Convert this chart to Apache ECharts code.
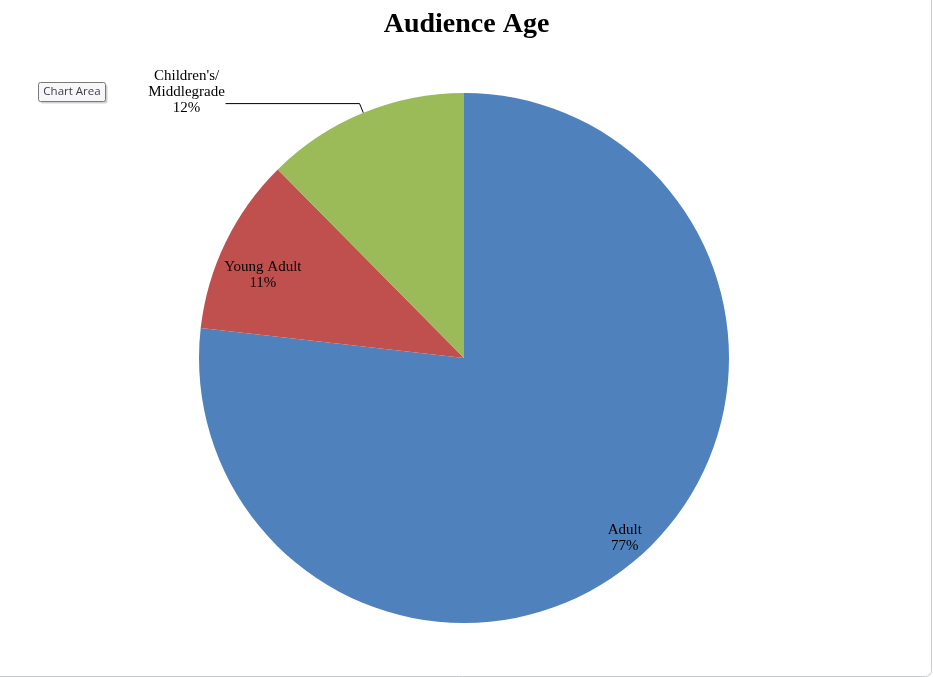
<!DOCTYPE html>
<html>
<head>
<meta charset="utf-8">
<script src="https://cdn.jsdelivr.net/npm/echarts@6/dist/echarts.min.js"></script>
<style>
html,body{margin:0;padding:0;background:#fff;}
#chart{width:933px;height:677px;}
</style>
</head>
<body>
<div id="chart"></div>
<script>
const titleText = 'Audience Age';
const categories = ['Adult', 'Young Adult', "Children's/\nMiddlegrade"];
const values = [76.8, 10.8, 12.4];
const colors = ['#4F81BD', '#C0504D', '#9BBB59'];

const total = values.reduce((a, b) => a + b, 0);
const pct = v => Math.round(v / total * 100) + '%';
const serif = '"Liberation Serif", "DejaVu Serif", serif';

const chart = echarts.init(document.getElementById('chart'));
const center = [464, 358];
const R = 265;

function overlay(idx, inner, shift) {
  return {
    type: 'pie', center: center, radius: [R * inner, R], startAngle: 90, clockwise: true,
    silent: true,
    data: categories.map((c, i) => ({
      name: c, value: values[i], itemStyle: { color: 'rgba(0,0,0,0)' },
      label: { show: i === idx }
    })),
    label: {
      position: 'inside', fontFamily: serif, fontSize: 15, color: '#000', lineHeight: 16,
      formatter: p => p.name + '\n' + pct(p.value)
    },
    labelLine: { show: false },
    labelLayout: () => shift
  };
}

chart.setOption({
  animation: false,
  backgroundColor: '#fff',
  title: {
    text: titleText, left: 'center', top: 6,
    textStyle: { fontFamily: serif, fontWeight: 'bold', fontSize: 28, color: '#000' }
  },
  graphic: [
    { type: 'rect', shape: { x: -10, y: -10, width: 941.5, height: 686.5, r: 6 },
      style: { fill: 'none', stroke: '#c4ccd0', lineWidth: 1 }, z: 10, silent: true },
    { type: 'group', left: 38, top: 82, z: 20, children: [
      { type: 'rect', shape: { x: 2, y: 2, width: 67, height: 19, r: 2 },
        style: { fill: 'rgba(0,0,0,0.18)' } },
      { type: 'rect', shape: { x: 0, y: 0, width: 67, height: 19, r: 2 },
        style: { fill: '#f7f7fa', stroke: '#7a7a7a', lineWidth: 1 } },
      { type: 'text', style: { text: 'Chart Area', x: 33.5, y: 9.5, align: 'center', verticalAlign: 'middle',
        fontFamily: '"Open Sans", "DejaVu Sans", sans-serif', fontSize: 11.5, fill: '#3c3c4a' } }
    ] }
  ],
  series: [
    {
      type: 'pie', center: center, radius: [0, R], startAngle: 90, clockwise: true,
      silent: true,
      data: categories.map((c, i) => ({
        name: c, value: values[i], itemStyle: { color: colors[i] },
        label: { show: i === 2 },
        labelLine: { show: i === 2 }
      })),
      label: {
        position: 'outside', fontFamily: serif, fontSize: 15, color: '#000', lineHeight: 16,
        distanceToLabelLine: 0,
        formatter: p => p.name.split('\n').map(s => '{c|' + s + '}').join('\n') + '\n{c|' + pct(p.value) + '}',
        rich: { c: { align: 'center', fontFamily: serif, fontSize: 15, color: '#000', lineHeight: 16 } },
        width: 78
      },
      labelLine: { length: 10, length2: 134, lineStyle: { color: '#000', width: 1 } },
      labelLayout: p => (p.dataIndex === 2 ? { dy: -12 } : {})
    },
    overlay(0, 0.8, {}),
    overlay(1, 0.64, { dx: -3, dy: 13 })
  ]
});
</script>
</body>
</html>
